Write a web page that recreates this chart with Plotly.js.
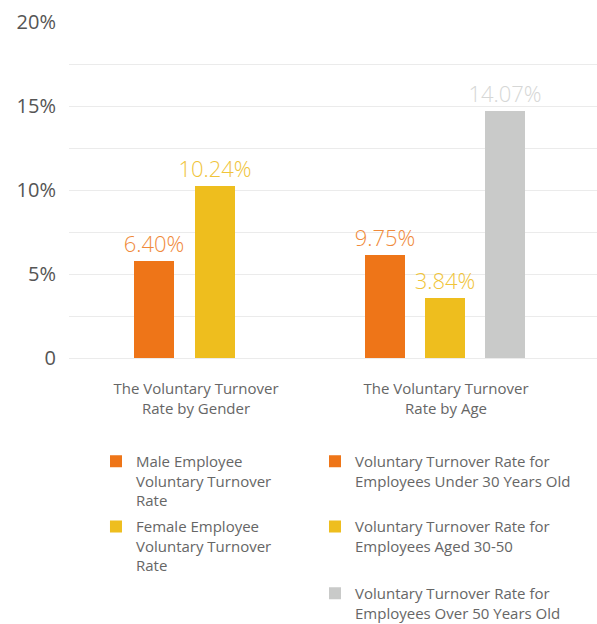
<!DOCTYPE html>
<html>
<head>
<meta charset="utf-8">
<script src="https://cdn.plot.ly/plotly-3.0.1.min.js"></script>
<style>html,body{margin:0;padding:0;background:#fff;}#chart{width:597px;height:624px;}</style>
</head>
<body>
<div id="chart"></div>
<script>
// Categories (x axis)
const categories = ["The Voluntary Turnover<br>Rate by Gender", "The Voluntary Turnover<br>Rate by Age"];
// Series names
const seriesNames = [
  "Male Employee<br>Voluntary Turnover<br>Rate",
  "Female Employee<br>Voluntary Turnover<br>Rate",
  "Voluntary Turnover Rate for<br>Employees Under 30 Years Old",
  "Voluntary Turnover Rate for<br>Employees Aged 30-50",
  "Voluntary Turnover Rate for<br>Employees Over 50 Years Old"
];
// Category each series belongs to
const seriesCategory = [0, 0, 1, 1, 1];
// Bar heights as drawn (%)
const barValues = [5.77, 10.24, 6.13, 3.57, 14.7];
// Value labels as printed
const barLabels = ["6.40%", "10.24%", "9.75%", "3.84%", "14.07%"];
// Y tick values and labels
const yTickVals = [0, 2.5, 5, 7.5, 10, 12.5, 15, 17.5, 20];
const yTickText = ["0", "", "5%", "", "10%", "", "15%", "", "20%"];

const colors = ["#EE7518", "#EEBE1E", "#EE7518", "#EEBE1E", "#C9CAC9"];
const labelColors = ["#F08A3A", "#F0C43A", "#F08A3A", "#F0C43A", "#D6D7D6"];
const offsets = [-0.248, -0.004, -0.324, -0.084, 0.156];
const legendIds = ["legend", "legend2", "legend3", "legend4", "legend5"];
const FONT = "'Open Sans', 'Noto Sans', sans-serif";

const traces = seriesNames.map((name, i) => ({
  type: "bar",
  name: name,
  x: [categories[seriesCategory[i]]],
  y: [barValues[i]],
  text: [barLabels[i]],
  texttemplate: "%{text}",
  textposition: "outside",
  constraintext: "none",
  cliponaxis: false,
  textfont: {family: FONT, size: 22, weight: 300, color: labelColors[i]},
  marker: {color: colors[i]},
  width: 0.16,
  offset: offsets[i],
  hoverinfo: "none",
  legend: legendIds[i]
}));

const legendBase = {
  xanchor: "left", yanchor: "top", valign: "top",
  bgcolor: "rgba(0,0,0,0)", borderwidth: 0,
  font: {family: FONT, size: 15, color: "#666666"}
};
const lx1 = 0.0511, lx2 = 0.4659;

const layout = {
  width: 597, height: 624,
  margin: {l: 69, r: 0, t: 22, b: 266, autoexpand: false},
  paper_bgcolor: "#fff", plot_bgcolor: "#fff",
  barmode: "overlay",
  font: {family: FONT, color: "#666666"},
  xaxis: {
    type: "category",
    range: [-0.508, 1.604],
    showgrid: false, zeroline: false, showline: false,
    ticks: "", ticklabelstandoff: 20,
    tickfont: {family: FONT, size: 15, color: "#666666"},
    fixedrange: true
  },
  yaxis: {
    range: [0, 20],
    tickmode: "array", tickvals: yTickVals, ticktext: yTickText,
    showgrid: true, gridcolor: "#EBEBEB", gridwidth: 1,
    zeroline: true, zerolinecolor: "#EBEBEB", zerolinewidth: 1,
    showline: false, ticks: "", ticklabelstandoff: 12,
    tickfont: {family: FONT, size: 20, color: "#555555"},
    fixedrange: true
  },
  showlegend: true,
  legend: Object.assign({}, legendBase, {x: lx1, y: -0.2589}),
  legend2: Object.assign({}, legendBase, {x: lx1, y: -0.453}),
  legend3: Object.assign({}, legendBase, {x: lx2, y: -0.2589}),
  legend4: Object.assign({}, legendBase, {x: lx2, y: -0.453}),
  legend5: Object.assign({}, legendBase, {x: lx2, y: -0.6518})
};

Plotly.newPlot("chart", traces, layout, {displayModeBar: false, staticPlot: true});
</script>
</body>
</html>
